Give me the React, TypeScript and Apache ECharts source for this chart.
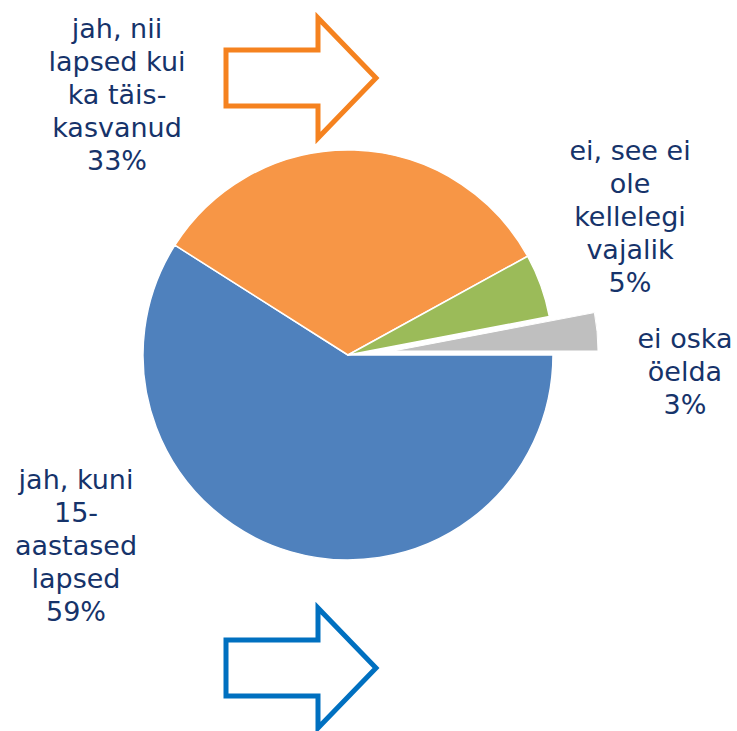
import React, { useEffect, useRef } from "react";
import * as echarts from "echarts";

const categories = [
  "jah, kuni\n15-\naastased\nlapsed",
  "jah, nii\nlapsed kui\nka täis-\nkasvanud",
  "ei, see ei\nole\nkellelegi\nvajalik",
  "ei oska\nöelda",
];
const values = [59, 33, 5, 3];
const colors = ["#4F81BD", "#F79646", "#9BBB59", "#BFBFBF"];
const labelCenters = [
  [76, 545],
  [117, 94],
  [630, 216],
  [685, 371],
];
const explodedIndex = 3;

function arrowPoints(x0: number, y0: number) {
  return [
    [x0, y0 + 32],
    [x0 + 92, y0 + 32],
    [x0 + 92, y0],
    [x0 + 150, y0 + 60],
    [x0 + 92, y0 + 120],
    [x0 + 92, y0 + 88],
    [x0, y0 + 88],
  ];
}

export default function App() {
  const ref = useRef<HTMLDivElement>(null);
  useEffect(() => {
    document.body.style.margin = "0";
    const chart = echarts.init(ref.current!, null, { renderer: "svg" });
    const common = {
      type: "pie",
      radius: 205,
      startAngle: 0,
      clockwise: true,
      avoidLabelOverlap: false,
      silent: true,
      labelLine: { show: false },
    };
    chart.setOption({
      animation: false,
      backgroundColor: "#ffffff",
      graphic: [
        {
          type: "polygon",
          shape: { points: arrowPoints(226, 18) },
          style: { fill: "none", stroke: "#F5821F", lineWidth: 5 },
        },
        {
          type: "polygon",
          shape: { points: arrowPoints(226, 608) },
          style: { fill: "none", stroke: "#0070C0", lineWidth: 5 },
        },
      ],
      series: [
        {
          ...common,
          center: [348, 355],
          label: {
            show: true,
            position: "outside",
            formatter: "{b}\n{d}%",
            fontFamily: "DejaVu Sans",
            fontSize: 27,
            lineHeight: 33,
            color: "#16336A",
            align: "center",
          },
          labelLayout: (params: any) => {
            const c = labelCenters[params.dataIndex];
            return { x: c[0], y: c[1], align: "center", verticalAlign: "middle" };
          },
          data: categories.map((name, i) => ({
            name,
            value: values[i],
            itemStyle:
              i === explodedIndex
                ? { color: "rgba(0,0,0,0)", borderWidth: 0 }
                : { color: colors[i], borderColor: "#ffffff", borderWidth: 1.5 },
          })),
        },
        {
          ...common,
          center: [393, 351],
          label: { show: false },
          data: categories.map((name, i) => ({
            name,
            value: values[i],
            itemStyle:
              i === explodedIndex
                ? { color: colors[i], borderColor: "#ffffff", borderWidth: 1 }
                : { color: "rgba(0,0,0,0)", borderWidth: 0 },
          })),
        },
      ],
    });
    return () => chart.dispose();
  }, []);
  return <div ref={ref} style={{ width: 737, height: 731 }} />;
}
